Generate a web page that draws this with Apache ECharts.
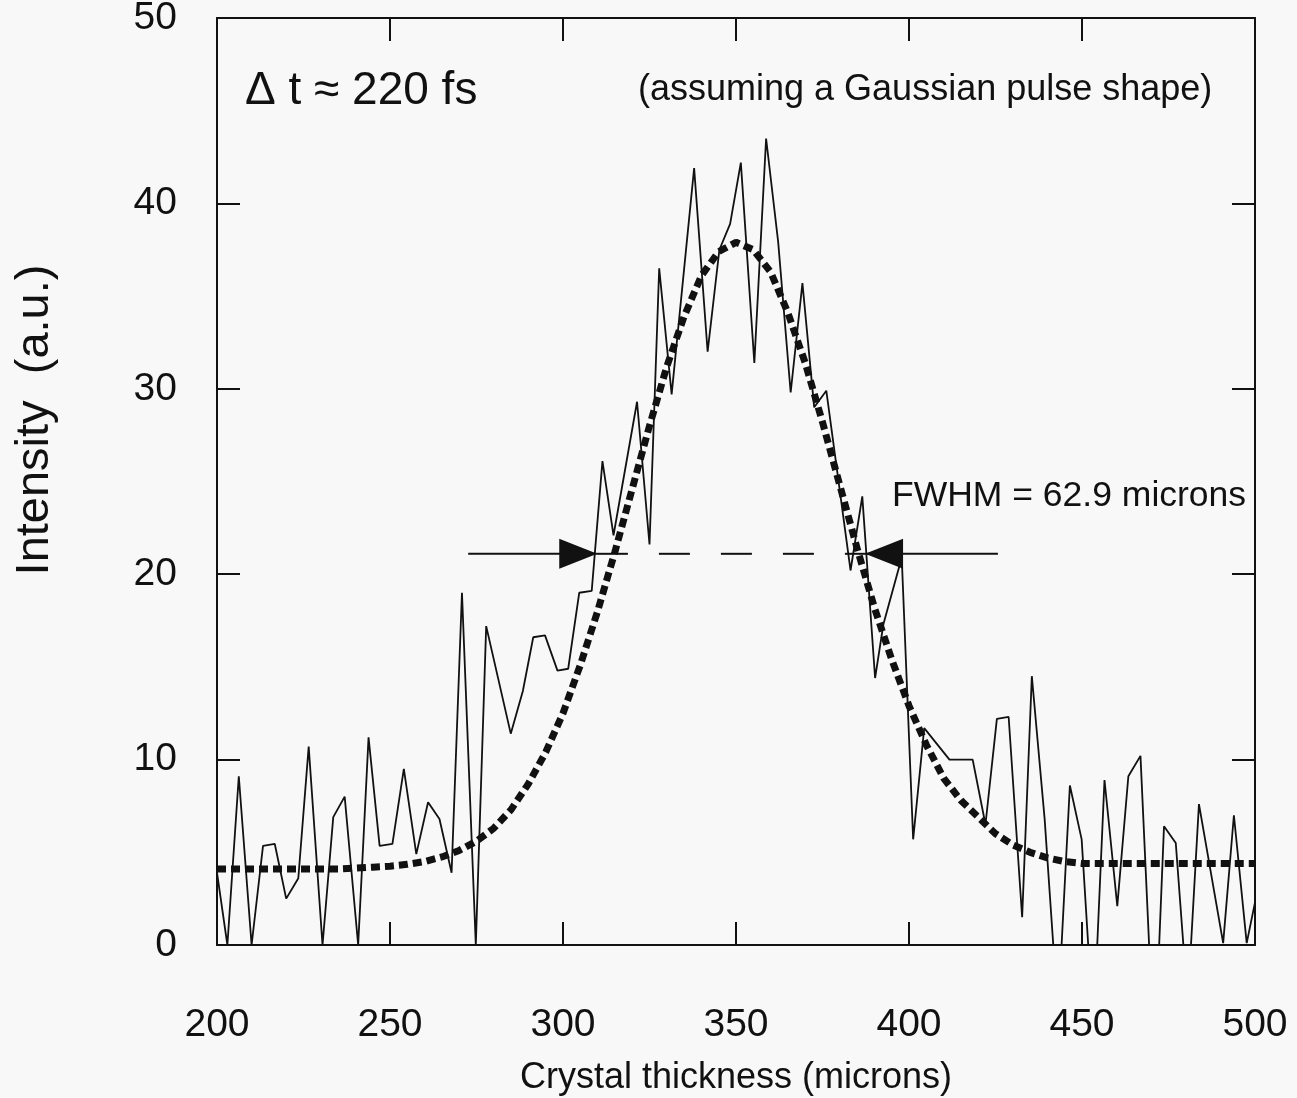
<!DOCTYPE html>
<html>
<head>
<meta charset="utf-8">
<title>Crystal thickness scan</title>
<script src="https://cdn.jsdelivr.net/npm/echarts@6/dist/echarts.min.js"></script>
<style>
  html, body { margin: 0; padding: 0; background: #f8f8f8; }
  #chart { width: 1297px; height: 1098px; }
</style>
</head>
<body>
<div id="chart"></div>
<script>
const thickness = [
  200, 203, 206.3, 210, 213.3, 216.7, 220, 223.5, 226.5, 230.5,
  233.6, 236.9, 240.8, 243.8, 247, 250.7, 254, 257.6, 261, 264.3,
  267.8, 270.8, 274.8, 277.8, 284.9, 288.4, 291.4, 294.8, 298.4, 301.5,
  304.7, 308.3, 311.4, 314.6, 321.4, 325, 327.8, 331.4, 337.9, 341.8,
  345.2, 348.3, 351.4, 355.3, 358.7, 362.2, 365.8, 369.2, 372.6, 376.1,
  383.1, 386.5, 390.2, 392.6, 397.9, 401.2, 404.4, 411.7, 418.4, 422.1,
  425.4, 428.8, 432.7, 435.5, 439.2, 441.7, 444.1, 446.5, 449.9, 451.8,
  454.4, 456.5, 460.2, 463.4, 466.9, 469.4, 472.3, 473.7, 477.1, 479.3,
  481.5, 483.8, 490.8, 493.9, 497.6, 500
];
const intensity = [
  3.9, 0, 9.1, 0, 5.35, 5.45, 2.5, 3.6, 10.7, 0,
  6.9, 8.0, 0, 11.2, 5.35, 5.45, 9.5, 4.9, 7.7, 6.8,
  3.9, 19.0, 0, 17.2, 11.4, 13.7, 16.6, 16.7, 14.8, 14.9,
  19.0, 19.1, 26.1, 22.1, 29.3, 21.6, 36.5, 29.7, 41.9, 32.0,
  37.5, 38.9, 42.2, 31.4, 43.5, 37.9, 29.8, 35.7, 29.0, 29.9,
  20.2, 24.2, 14.4, 17.3, 20.9, 5.7, 11.7, 10.0, 10.0, 6.5,
  12.2, 12.3, 1.5, 14.5, 6.8, 0, 0, 8.6, 5.7, 0,
  0, 8.9, 2.1, 9.1, 10.2, 0, 0, 6.4, 5.5, 0,
  0, 7.6, 0.1, 7.0, 0.1, 2.3
];

// gaussian fit curve, read at 5 micron steps
const fitThickness = [
  200, 205, 210, 215, 220, 225, 230, 235, 240, 245,
  250, 255, 260, 265, 270, 275, 280, 285, 290, 295,
  300, 305, 310, 315, 320, 325, 330, 335, 340, 345,
  350, 355, 360, 365, 370, 375, 380, 385, 390, 395,
  400, 405, 410, 415, 420, 425, 430, 435, 440, 445,
  450, 455, 460, 465, 470, 475, 480, 485, 490, 495, 500
];
const fitIntensity = [
  4.1, 4.1, 4.1, 4.1, 4.1, 4.1, 4.1, 4.1, 4.15, 4.2,
  4.25, 4.35, 4.5, 4.75, 5.1, 5.6, 6.3, 7.3, 8.7, 10.4,
  12.5, 15.1, 18.0, 21.2, 24.6, 28.0, 31.2, 33.9, 36.1, 37.4,
  37.9, 37.5, 36.3, 34.1, 31.4, 28.2, 24.8, 21.4, 18.2, 15.4,
  12.9, 10.8, 9.0, 7.8, 6.9, 6.0, 5.4, 5.0, 4.7, 4.5,
  4.4, 4.4, 4.4, 4.4, 4.4, 4.4, 4.4, 4.4, 4.4, 4.4, 4.4
];

// FWHM marker (half maximum level and its end points)
const halfMax = 21.1;
const fwhmOuterLeft = 272.6;
const fwhmTipLeft = 309.8;
const fwhmTipRight = 387.3;
const fwhmOuterRight = 425.7;
const arrowCenters = [304.4, 392.8];

const xTicks = [200, 250, 300, 350, 400, 450, 500];
const yTicks = [0, 10, 20, 30, 40, 50];

const FONT = "'Liberation Sans', Arial, Helvetica, sans-serif";
const INK = '#111';

const chart = echarts.init(document.getElementById('chart'));

function frameAxis(position) {
  return {
    type: 'value',
    position: position,
    min: position === 'top' ? xTicks[0] : yTicks[0],
    max: position === 'top' ? xTicks[xTicks.length - 1] : yTicks[yTicks.length - 1],
    interval: position === 'top' ? 50 : 10,
    axisLine: { show: true, onZero: false, lineStyle: { color: INK, width: 2 } },
    axisTick: { show: true, inside: true, length: 23, lineStyle: { color: INK, width: 2 } },
    axisLabel: { show: false },
    splitLine: { show: false }
  };
}

const option = {
  backgroundColor: '#f8f8f8',
  animation: false,
  grid: { left: 217, right: 42, top: 18, bottom: 153, outerBoundsMode: 'none' },
  xAxis: [
    {
      type: 'value',
      position: 'bottom',
      min: xTicks[0],
      max: xTicks[xTicks.length - 1],
      interval: 50,
      name: 'Crystal thickness (microns)',
      nameLocation: 'middle',
      nameGap: 115,
      nameTextStyle: { fontFamily: FONT, fontSize: 36, color: INK },
      axisLine: { onZero: false, lineStyle: { color: INK, width: 2 } },
      axisTick: { inside: true, length: 23, lineStyle: { color: INK, width: 2 } },
      axisLabel: { margin: 61, fontFamily: FONT, fontSize: 39, color: INK },
      splitLine: { show: false }
    },
    frameAxis('top')
  ],
  yAxis: [
    {
      type: 'value',
      position: 'left',
      min: yTicks[0],
      max: yTicks[yTicks.length - 1],
      interval: 10,
      axisLine: { onZero: false, lineStyle: { color: INK, width: 2 } },
      axisTick: { inside: true, length: 23, lineStyle: { color: INK, width: 2 } },
      axisLabel: { margin: 40, padding: [10, 0, 0, 0], fontFamily: FONT, fontSize: 39, color: INK },
      splitLine: { show: false }
    },
    frameAxis('right')
  ],
  series: [
    {
      name: 'fit',
      type: 'line',
      data: fitThickness.map((t, i) => [t, fitIntensity[i]]),
      symbol: 'none',
      lineStyle: { color: INK, width: 7, type: [9, 5] },
      z: 2
    },
    {
      name: 'data',
      type: 'line',
      data: thickness.map((t, i) => [t, intensity[i]]),
      symbol: 'none',
      lineStyle: { color: INK, width: 1.8 },
      z: 3
    },
    {
      name: 'fwhm-left',
      type: 'line',
      data: [[fwhmOuterLeft, halfMax], [fwhmTipLeft, halfMax]],
      symbol: 'none',
      lineStyle: { color: INK, width: 2 },
      z: 4
    },
    {
      name: 'fwhm-mid',
      type: 'line',
      data: [[fwhmTipLeft, halfMax], [fwhmTipRight, halfMax]],
      symbol: 'none',
      lineStyle: { color: INK, width: 2, type: [31, 31] },
      z: 4
    },
    {
      name: 'fwhm-right',
      type: 'line',
      data: [[fwhmTipRight, halfMax], [fwhmOuterRight, halfMax]],
      symbol: 'none',
      lineStyle: { color: INK, width: 2 },
      z: 4
    },
    {
      name: 'arrows',
      type: 'scatter',
      symbolSize: [38, 30],
      itemStyle: { color: INK, opacity: 1 },
      data: [
        { value: [arrowCenters[0], halfMax], symbol: 'path://M0,0L10,5L0,10Z' },
        { value: [arrowCenters[1], halfMax], symbol: 'path://M10,0L0,5L10,10Z' }
      ],
      z: 5
    }
  ],
  graphic: [
    {
      type: 'text', left: 245, top: 68,
      style: { text: 'Δ t ≈ 220 fs', font: '46px ' + FONT, fill: INK }
    },
    {
      type: 'text', left: 638, top: 72,
      style: { text: '(assuming a Gaussian pulse shape)', font: '36px ' + FONT, fill: INK }
    },
    {
      type: 'text', left: 892, top: 478,
      style: { text: 'FWHM = 62.9 microns', font: '35.5px ' + FONT, fill: INK }
    },
    {
      type: 'text', x: 35, y: 420, rotation: Math.PI / 2,
      style: { text: 'Intensity  (a.u.)', font: '47px ' + FONT, fill: INK, textAlign: 'center', textVerticalAlign: 'middle' }
    }
  ]
};

chart.setOption(option);
</script>
</body>
</html>
